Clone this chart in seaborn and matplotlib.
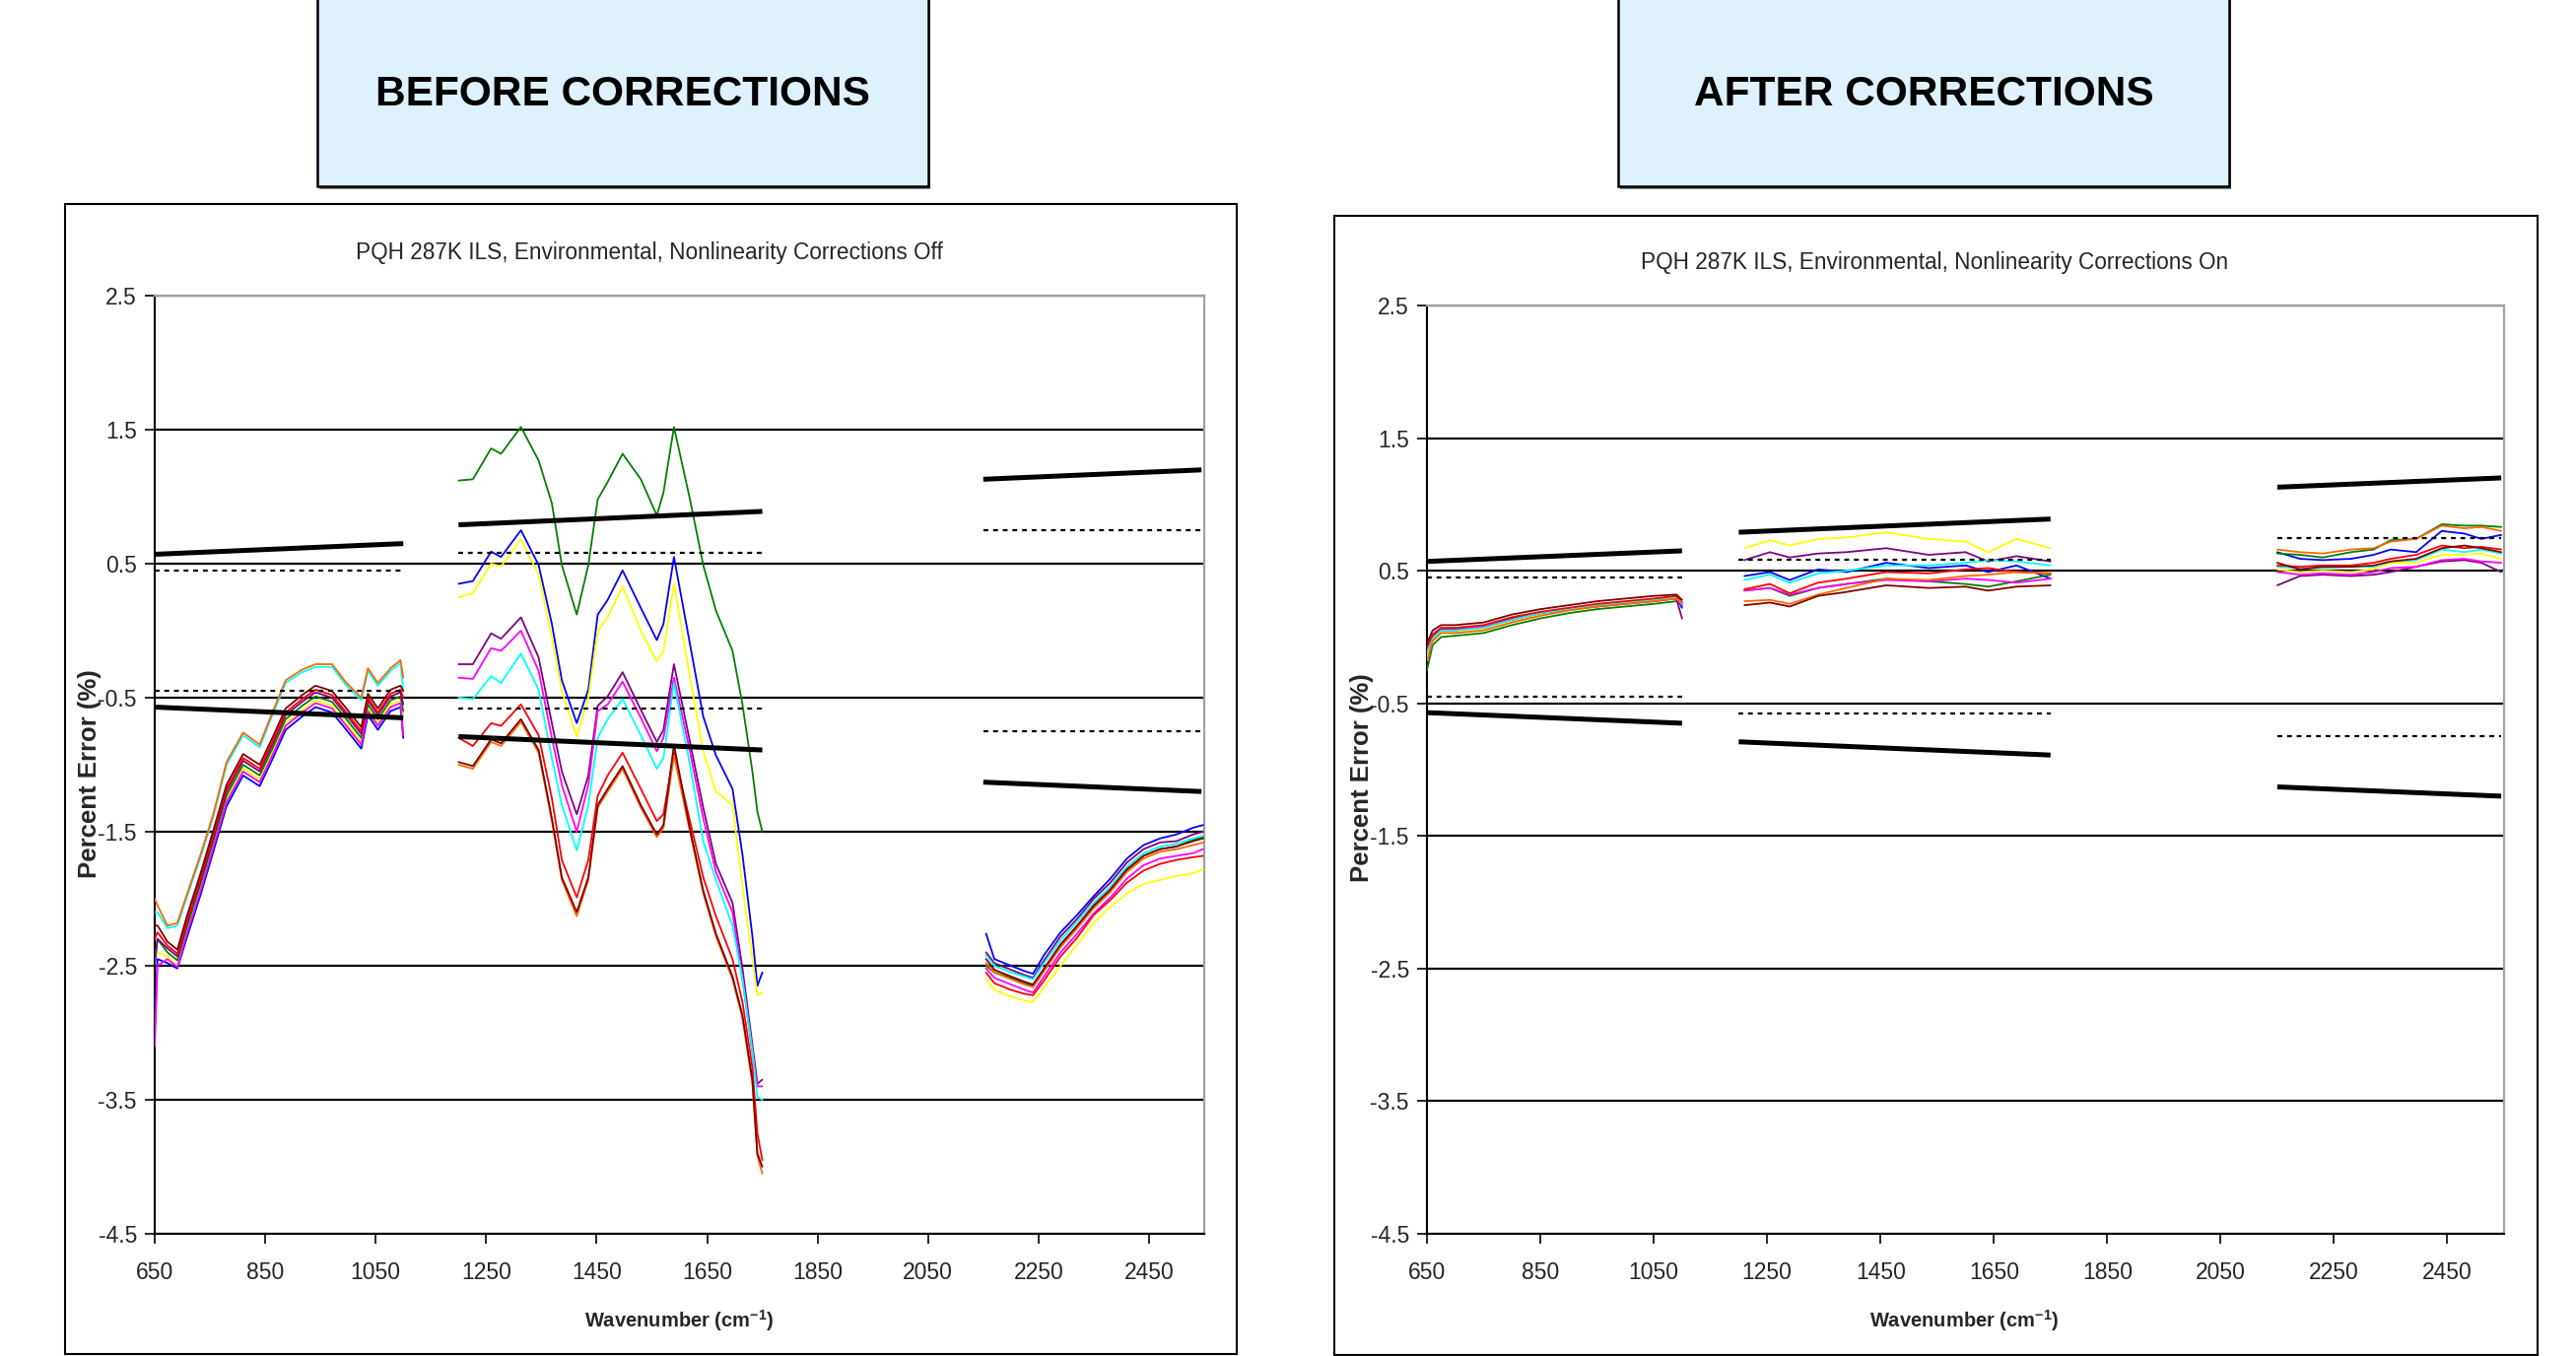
import numpy as np
import pandas as pd
import matplotlib
matplotlib.use("Agg")
import matplotlib.pyplot as plt
from matplotlib import font_manager
from matplotlib.patches import Rectangle
import seaborn as sns

# ---------------- DATA ----------------
series_names = ["blue", "yellow", "green", "purple", "magenta", "cyan", "red", "orange", "darkred"]
series_colors = ["#0000FF", "#FFFF00", "#008000", "#800080", "#FF00FF", "#00FFFF", "#FF0000", "#FF6600", "#800000"]

# --- Before corrections ---
before_x1 = [650, 655, 673, 691, 709, 733, 756, 780, 810, 840, 863, 887, 917, 941, 971, 995, 1024, 1036, 1054, 1077, 1095, 1100]
before_b1 = {
    "blue":    [-3.00, -2.45, -2.48, -2.52, -2.28, -1.97, -1.65, -1.31, -1.08, -1.16, -0.96, -0.74, -0.64, -0.57, -0.61, -0.73, -0.88, -0.63, -0.74, -0.60, -0.57, -0.80],
    "yellow":  [-2.40, -2.40, -2.43, -2.50, -2.23, -1.92, -1.60, -1.26, -1.03, -1.11, -0.91, -0.69, -0.59, -0.52, -0.56, -0.68, -0.83, -0.58, -0.69, -0.55, -0.52, -0.62],
    "green":   [-2.45, -2.30, -2.40, -2.46, -2.20, -1.89, -1.57, -1.23, -1.00, -1.08, -0.88, -0.66, -0.56, -0.49, -0.53, -0.65, -0.80, -0.55, -0.66, -0.52, -0.49, -0.60],
    "purple":  [-2.50, -2.30, -2.37, -2.43, -2.17, -1.86, -1.54, -1.20, -0.97, -1.05, -0.85, -0.63, -0.53, -0.46, -0.50, -0.62, -0.77, -0.52, -0.63, -0.49, -0.46, -0.55],
    "magenta": [-3.10, -2.50, -2.45, -2.51, -2.25, -1.94, -1.62, -1.28, -1.05, -1.13, -0.93, -0.71, -0.61, -0.54, -0.58, -0.70, -0.85, -0.60, -0.71, -0.57, -0.54, -0.78],
    "cyan":    [-2.10, -2.10, -2.22, -2.20, -1.98, -1.69, -1.39, -1.00, -0.78, -0.87, -0.63, -0.39, -0.31, -0.27, -0.27, -0.40, -0.52, -0.30, -0.41, -0.30, -0.24, -0.45],
    "red":     [-2.30, -2.25, -2.35, -2.41, -2.15, -1.84, -1.52, -1.18, -0.95, -1.03, -0.83, -0.61, -0.51, -0.44, -0.48, -0.60, -0.75, -0.50, -0.61, -0.47, -0.44, -0.50],
    "orange":  [-2.00, -2.05, -2.20, -2.18, -1.96, -1.67, -1.37, -0.98, -0.76, -0.85, -0.61, -0.37, -0.29, -0.25, -0.25, -0.38, -0.50, -0.28, -0.39, -0.28, -0.22, -0.35],
    "darkred": [-2.20, -2.20, -2.32, -2.38, -2.12, -1.81, -1.49, -1.15, -0.92, -1.00, -0.80, -0.58, -0.48, -0.41, -0.45, -0.57, -0.72, -0.47, -0.58, -0.44, -0.41, -0.45],
}
before_x2 = [1200, 1226, 1259, 1277, 1313, 1345, 1369, 1387, 1414, 1435, 1452, 1470, 1497, 1530, 1559, 1571, 1590, 1619, 1643, 1666, 1696, 1714, 1732, 1741, 1750]
before_b2 = {
    "blue":    [0.35, 0.37, 0.59, 0.55, 0.75, 0.49, 0.05, -0.37, -0.69, -0.44, 0.12, 0.23, 0.45, 0.17, -0.07, 0.05, 0.55, -0.10, -0.64, -0.93, -1.18, -1.67, -2.28, -2.65, -2.55],
    "yellow":  [0.25, 0.28, 0.50, 0.48, 0.68, 0.42, -0.05, -0.45, -0.79, -0.50, 0.00, 0.10, 0.33, 0.00, -0.23, -0.15, 0.35, -0.35, -0.90, -1.20, -1.30, -1.90, -2.45, -2.72, -2.70],
    "green":   [1.12, 1.13, 1.36, 1.32, 1.52, 1.27, 0.95, 0.49, 0.12, 0.49, 0.98, 1.11, 1.32, 1.13, 0.86, 1.03, 1.52, 0.98, 0.49, 0.15, -0.15, -0.55, -1.05, -1.35, -1.50],
    "purple":  [-0.25, -0.25, -0.02, -0.06, 0.10, -0.20, -0.69, -1.05, -1.37, -1.08, -0.56, -0.49, -0.31, -0.59, -0.83, -0.74, -0.25, -0.83, -1.32, -1.74, -2.03, -2.52, -3.09, -3.38, -3.35],
    "magenta": [-0.35, -0.36, -0.13, -0.15, 0.00, -0.30, -0.80, -1.15, -1.50, -1.15, -0.60, -0.55, -0.38, -0.65, -0.90, -0.80, -0.35, -0.90, -1.40, -1.80, -2.10, -2.60, -3.15, -3.40, -3.40],
    "cyan":    [-0.50, -0.51, -0.34, -0.39, -0.17, -0.44, -0.95, -1.30, -1.64, -1.30, -0.80, -0.66, -0.51, -0.78, -1.03, -0.95, -0.39, -1.00, -1.57, -1.86, -2.20, -2.60, -3.14, -3.48, -3.50],
    "red":     [-0.80, -0.86, -0.69, -0.71, -0.55, -0.78, -1.25, -1.71, -1.99, -1.71, -1.23, -1.08, -0.91, -1.18, -1.42, -1.37, -0.91, -1.42, -1.84, -2.13, -2.45, -2.77, -3.26, -3.75, -3.95],
    "orange":  [-1.00, -1.03, -0.83, -0.86, -0.68, -0.91, -1.42, -1.86, -2.13, -1.86, -1.32, -1.20, -1.03, -1.32, -1.54, -1.47, -0.93, -1.50, -1.96, -2.28, -2.60, -2.89, -3.38, -3.92, -4.05],
    "darkred": [-0.98, -1.01, -0.81, -0.84, -0.66, -0.89, -1.40, -1.84, -2.10, -1.84, -1.30, -1.18, -1.01, -1.30, -1.52, -1.45, -0.85, -1.48, -1.94, -2.26, -2.58, -2.87, -3.35, -3.90, -4.00],
}
before_x3 = [2155, 2170, 2200, 2225, 2240, 2260, 2290, 2320, 2350, 2380, 2410, 2440, 2470, 2500, 2530, 2548]
before_b3 = {
    "blue":    [-2.26, -2.45, -2.50, -2.54, -2.56, -2.42, -2.25, -2.12, -1.98, -1.85, -1.70, -1.60, -1.55, -1.52, -1.47, -1.45],
    "yellow":  [-2.60, -2.68, -2.73, -2.76, -2.77, -2.66, -2.50, -2.34, -2.18, -2.06, -1.96, -1.89, -1.86, -1.83, -1.81, -1.78],
    "green":   [-2.50, -2.55, -2.59, -2.63, -2.65, -2.53, -2.35, -2.21, -2.06, -1.94, -1.79, -1.68, -1.63, -1.61, -1.56, -1.54],
    "purple":  [-2.40, -2.48, -2.53, -2.57, -2.59, -2.46, -2.28, -2.15, -2.00, -1.88, -1.73, -1.63, -1.58, -1.57, -1.52, -1.50],
    "magenta": [-2.52, -2.59, -2.64, -2.68, -2.70, -2.58, -2.40, -2.26, -2.11, -1.99, -1.85, -1.75, -1.70, -1.68, -1.66, -1.63],
    "cyan":    [-2.42, -2.50, -2.55, -2.58, -2.60, -2.48, -2.31, -2.17, -2.03, -1.91, -1.76, -1.66, -1.61, -1.59, -1.55, -1.53],
    "red":     [-2.55, -2.63, -2.68, -2.71, -2.72, -2.61, -2.43, -2.29, -2.12, -2.01, -1.88, -1.79, -1.74, -1.71, -1.69, -1.68],
    "orange":  [-2.48, -2.55, -2.60, -2.64, -2.66, -2.54, -2.36, -2.22, -2.07, -1.95, -1.80, -1.70, -1.65, -1.63, -1.60, -1.58],
    "darkred": [-2.45, -2.53, -2.58, -2.62, -2.64, -2.52, -2.34, -2.20, -2.05, -1.93, -1.78, -1.68, -1.63, -1.61, -1.57, -1.55],
}

# --- After corrections ---
after_x1 = [650, 660, 675, 700, 750, 800, 850, 900, 950, 1000, 1050, 1090, 1100]
after_b1 = {
    "blue":    [-0.12, 0.00, 0.05, 0.05, 0.07, 0.13, 0.18, 0.21, 0.24, 0.26, 0.28, 0.30, 0.22],
    "yellow":  [-0.15, -0.02, 0.04, 0.04, 0.06, 0.12, 0.17, 0.20, 0.23, 0.25, 0.27, 0.29, 0.25],
    "green":   [-0.25, -0.06, 0.00, 0.01, 0.03, 0.09, 0.14, 0.18, 0.21, 0.23, 0.25, 0.27, 0.24],
    "purple":  [-0.10, 0.01, 0.06, 0.06, 0.08, 0.14, 0.18, 0.21, 0.23, 0.25, 0.27, 0.29, 0.14],
    "magenta": [-0.11, 0.00, 0.05, 0.05, 0.08, 0.13, 0.18, 0.21, 0.24, 0.26, 0.28, 0.29, 0.24],
    "cyan":    [-0.12, -0.01, 0.05, 0.05, 0.07, 0.13, 0.18, 0.21, 0.24, 0.26, 0.28, 0.30, 0.25],
    "red":     [-0.08, 0.02, 0.07, 0.07, 0.09, 0.15, 0.19, 0.22, 0.25, 0.27, 0.29, 0.31, 0.26],
    "orange":  [-0.18, -0.03, 0.03, 0.03, 0.05, 0.11, 0.16, 0.20, 0.23, 0.25, 0.27, 0.29, 0.26],
    "darkred": [-0.05, 0.05, 0.09, 0.09, 0.11, 0.17, 0.21, 0.24, 0.27, 0.29, 0.31, 0.32, 0.28],
}
after_x2 = [1210, 1255, 1290, 1340, 1390, 1460, 1535, 1600, 1640, 1690, 1750]
after_b2 = {
    "blue":    [0.46, 0.49, 0.43, 0.51, 0.49, 0.56, 0.52, 0.54, 0.49, 0.54, 0.44],
    "yellow":  [0.67, 0.73, 0.69, 0.74, 0.75, 0.79, 0.74, 0.72, 0.64, 0.74, 0.67],
    "green":   [0.35, 0.37, 0.31, 0.37, 0.40, 0.44, 0.42, 0.40, 0.38, 0.42, 0.47],
    "purple":  [0.58, 0.64, 0.60, 0.63, 0.64, 0.67, 0.62, 0.64, 0.57, 0.61, 0.57],
    "magenta": [0.35, 0.37, 0.32, 0.37, 0.40, 0.43, 0.42, 0.44, 0.43, 0.41, 0.44],
    "cyan":    [0.43, 0.47, 0.41, 0.48, 0.50, 0.54, 0.54, 0.56, 0.58, 0.57, 0.54],
    "red":     [0.36, 0.40, 0.33, 0.41, 0.44, 0.49, 0.48, 0.51, 0.52, 0.49, 0.48],
    "orange":  [0.27, 0.28, 0.25, 0.32, 0.37, 0.44, 0.43, 0.46, 0.47, 0.49, 0.48],
    "darkred": [0.24, 0.26, 0.23, 0.31, 0.34, 0.39, 0.37, 0.38, 0.35, 0.38, 0.39],
}
after_x3 = [2150, 2190, 2230, 2280, 2320, 2350, 2395, 2440, 2480, 2510, 2545]
after_b3 = {
    "blue":    [0.64, 0.59, 0.58, 0.59, 0.62, 0.66, 0.64, 0.80, 0.78, 0.74, 0.77],
    "yellow":  [0.51, 0.49, 0.50, 0.49, 0.51, 0.56, 0.56, 0.62, 0.62, 0.63, 0.59],
    "green":   [0.63, 0.62, 0.60, 0.64, 0.66, 0.73, 0.74, 0.85, 0.84, 0.84, 0.83],
    "purple":  [0.39, 0.46, 0.47, 0.46, 0.47, 0.49, 0.53, 0.57, 0.58, 0.56, 0.49],
    "magenta": [0.49, 0.47, 0.48, 0.47, 0.49, 0.52, 0.53, 0.58, 0.59, 0.57, 0.56],
    "cyan":    [0.53, 0.52, 0.52, 0.53, 0.53, 0.57, 0.58, 0.66, 0.64, 0.66, 0.63],
    "red":     [0.54, 0.53, 0.54, 0.54, 0.56, 0.59, 0.62, 0.69, 0.67, 0.68, 0.66],
    "orange":  [0.66, 0.64, 0.63, 0.66, 0.67, 0.72, 0.74, 0.84, 0.82, 0.83, 0.80],
    "darkred": [0.56, 0.51, 0.53, 0.53, 0.54, 0.57, 0.59, 0.67, 0.69, 0.67, 0.64],
}

# --- Specification limits (same on both panels) ---
band_start = [650, 1200, 2150]
band_end = [1100, 1750, 2545]
limit_solid_start = [0.57, 0.79, 1.13]
limit_solid_end = [0.65, 0.89, 1.20]
limit_dotted = [0.45, 0.58, 0.75]

panel_titles = ["PQH 287K ILS, Environmental, Nonlinearity Corrections Off",
                "PQH 287K ILS, Environmental, Nonlinearity Corrections On"]
header_texts = ["BEFORE CORRECTIONS", "AFTER CORRECTIONS"]
y_ticks = [2.5, 1.5, 0.5, -0.5, -1.5, -2.5, -3.5, -4.5]
x_ticks = [650, 850, 1050, 1250, 1450, 1650, 1850, 2050, 2250, 2450]

# ---------------- STYLE ----------------
sns.set_theme(style="white")
available = {f.name for f in font_manager.fontManager.ttflist}
narrow = "Liberation Sans Narrow" if "Liberation Sans Narrow" in available else "Liberation Sans"
plt.rcParams["font.family"] = [narrow, "DejaVu Sans"]
plt.rcParams["axes.unicode_minus"] = False
plt.rcParams["mathtext.default"] = "regular"

W, H = 2614, 1376
fig = plt.figure(figsize=(W / 100, H / 100), dpi=100)
fig.patch.set_facecolor("white")


def px_rect(x0, y0, x1, y1):
    return [x0 / W, 1 - y1 / H, (x1 - x0) / W, (y1 - y0) / H]


# outer chart frames
for (x0, y0, x1, y1) in [(66, 207, 1255, 1374), (1354, 219, 2575, 1375)]:
    r = px_rect(x0, y0, x1, y1)
    fig.patches.append(Rectangle((r[0], r[1]), r[2], r[3], transform=fig.transFigure,
                                 fill=False, edgecolor="black", linewidth=1.5, zorder=0))

# header boxes
for (x0, x1), txt in zip([(322, 942), (1642, 2262)], header_texts):
    r = px_rect(x0, -20, x1, 189)
    fig.patches.append(Rectangle((r[0] + 2 / W, r[1] - 3 / H), r[2], r[3], transform=fig.transFigure,
                                 facecolor="#808080", edgecolor="none", zorder=1))
    fig.patches.append(Rectangle((r[0], r[1]), r[2], r[3], transform=fig.transFigure,
                                 facecolor="#DFF1FD", edgecolor="black", linewidth=1.8, zorder=2))
    fig.text((x0 + x1) / 2 / W, 1 - 96 / H, txt, ha="center", va="center",
             fontsize=30.5, fontweight="bold", color="black", zorder=3,
             family=["Liberation Sans", "DejaVu Sans"])

axes_px = [(157, 300, 1222, 1252), (1448, 310, 2541, 1252)]
datasets = [
    [(before_x1, before_b1), (before_x2, before_b2), (before_x3, before_b3)],
    [(after_x1, after_b1), (after_x2, after_b2), (after_x3, after_b3)],
]
title_pos = [(659, 256), (1963, 267)]
ylab_pos = [(91, 785), (1382, 789)]
xlab_pos = [(689, 1340), (1993, 1340)]

palette = dict(zip(series_names, series_colors))

for k, (ap, bands) in enumerate(zip(axes_px, datasets)):
    ax = fig.add_axes(px_rect(*ap))
    rows = []
    for b, (xs, d) in enumerate(bands):
        for name in series_names:
            for xv, yv in zip(xs, d[name]):
                rows.append((name, b, xv, yv))
    df = pd.DataFrame(rows, columns=["series", "band", "wavenumber", "error"])
    sns.lineplot(data=df, x="wavenumber", y="error", hue="series", units="band",
                 estimator=None, palette=palette, hue_order=series_names,
                 legend=False, sort=False, linewidth=1.3, ax=ax, zorder=3)
    # limits
    for s, e, a, b_, dt in zip(band_start, band_end, limit_solid_start, limit_solid_end, limit_dotted):
        ax.plot([s, e], [a, b_], color="black", lw=3.6, solid_capstyle="butt", zorder=4)
        ax.plot([s, e], [-a, -b_], color="black", lw=3.6, solid_capstyle="butt", zorder=4)
        ax.plot([s, e], [dt, dt], color="black", lw=1.6, ls=(0, (2.2, 2.2)), zorder=4)
        ax.plot([s, e], [-dt, -dt], color="black", lw=1.6, ls=(0, (2.2, 2.2)), zorder=4)

    ax.set_xlim(650, 2550)
    ax.set_ylim(-4.5, 2.5)
    ax.set_yticks(y_ticks)
    ax.set_yticklabels([f"{v:.1f}" for v in y_ticks])
    ax.set_xticks(x_ticks)
    ax.set_xticklabels([str(v) for v in x_ticks])
    ax.set_axisbelow(True)
    ax.yaxis.grid(True, color="black", linewidth=1.6)
    ax.xaxis.grid(False)
    ax.tick_params(axis="both", which="major", direction="out", length=7, width=1.2,
                   color="black", labelsize=16.5, pad=6, left=True, bottom=True)
    ax.tick_params(axis="x", pad=13)
    for side in ["left", "bottom"]:
        ax.spines[side].set_color("black")
        ax.spines[side].set_linewidth(1.5)
    for side in ["top", "right"]:
        ax.spines[side].set_color("#A0A0A0")
        ax.spines[side].set_linewidth(1.6)
    ax.set_xlabel("")
    ax.set_ylabel("")
    ax.set_facecolor("white")

    tx, ty = title_pos[k]
    fig.text(tx / W, 1 - ty / H, panel_titles[k], ha="center", va="center", fontsize=16.3)
    yx, yy = ylab_pos[k]
    fig.text(yx / W, 1 - yy / H, "Percent Error (%)", ha="center", va="center",
             rotation=90, fontsize=18.5, fontweight="bold",
             family=["Liberation Sans", "DejaVu Sans"])
    xx, xy = xlab_pos[k]
    fig.text(xx / W, 1 - xy / H, "Wavenumber (cm$^{-1}$)", ha="center", va="center",
             fontsize=14.5, fontweight="bold")

fig.savefig("out.png", dpi=100, facecolor="white")
